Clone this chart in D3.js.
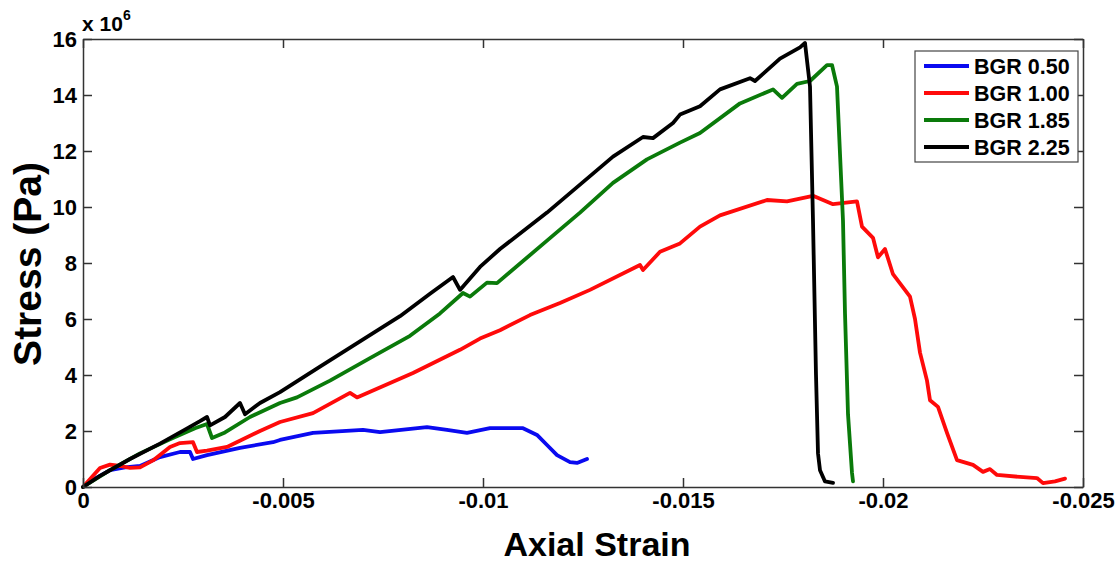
<!DOCTYPE html>
<html>
<head>
<meta charset="utf-8">
<script src="https://cdn.jsdelivr.net/npm/d3@7"></script>
<style>
  body { margin: 0; background: #fff; }
  text { font-family: "Liberation Sans", Arial, sans-serif; font-weight: bold; }
</style>
</head>
<body>
<svg id="chart" width="1120" height="565"></svg>
<script>
// Data (strain is negative, stress in units of 1e6 Pa)
var seriesNames = ["BGR 0.50", "BGR 1.00", "BGR 1.85", "BGR 2.25"];
var seriesColors = ["#0a0af0", "#ff0a0a", "#0a7a0a", "#000000"];

var strain050 = [0, -0.0003, -0.000675, -0.00105, -0.001425, -0.001925, -0.002425, -0.002675, -0.00275, -0.0031,
  -0.003925, -0.00475, -0.004925, -0.00575, -0.007, -0.007425, -0.0086, -0.0091, -0.0096, -0.010175,
  -0.011, -0.01135, -0.0116, -0.01185, -0.012175, -0.01235, -0.0126];
var stress050 = [0, 0.3, 0.6, 0.7, 0.75, 1.07, 1.25, 1.25, 1.0, 1.14,
  1.4, 1.6, 1.68, 1.93, 2.04, 1.96, 2.14, 2.04, 1.93, 2.1,
  2.1, 1.86, 1.5, 1.14, 0.89, 0.86, 1.0];

var strain100 = [0, -0.00025, -0.000425, -0.000675, -0.000925, -0.001175, -0.001425, -0.00175, -0.002175, -0.002425,
  -0.00275, -0.00285, -0.0031, -0.0036, -0.004425, -0.004925, -0.00575, -0.006675, -0.00685, -0.00825,
  -0.009425, -0.009925, -0.010425, -0.011175, -0.011925, -0.012675, -0.013925, -0.014, -0.014425, -0.014925,
  -0.015425, -0.015925, -0.0171, -0.0176, -0.01825, -0.01875, -0.01935, -0.019475, -0.01975, -0.019875,
  -0.02005, -0.02025, -0.020675, -0.0208, -0.020925, -0.0211, -0.021175, -0.021375, -0.0216, -0.02185,
  -0.02225, -0.0225, -0.022675, -0.02285, -0.023425, -0.02385, -0.024, -0.0243, -0.02455];
var stress100 = [0, 0.4, 0.68, 0.8, 0.75, 0.68, 0.7, 0.95, 1.43, 1.57,
  1.6, 1.25, 1.3, 1.43, 2.0, 2.32, 2.64, 3.36, 3.2, 4.07,
  4.9, 5.3, 5.6, 6.14, 6.57, 7.04, 7.93, 7.75, 8.4, 8.7,
  9.3, 9.7, 10.25, 10.2, 10.4, 10.1, 10.2, 9.3, 8.9, 8.2,
  8.5, 7.6, 6.8, 6.0, 4.8, 3.8, 3.1, 2.86, 1.93, 0.96,
  0.79, 0.54, 0.64, 0.43, 0.36, 0.32, 0.14, 0.2, 0.3];

var strain185 = [0, -0.000675, -0.001425, -0.002175, -0.0028, -0.0031, -0.003225, -0.00355, -0.004175, -0.004925,
  -0.00535, -0.006175, -0.007175, -0.008175, -0.008925, -0.0095, -0.009675, -0.0101, -0.01035, -0.0116,
  -0.012425, -0.01325, -0.0141, -0.014925, -0.015425, -0.016425, -0.01725, -0.017475, -0.01785, -0.018175,
  -0.0186, -0.018725, -0.01885, -0.018925, -0.019, -0.01905, -0.019125, -0.019225, -0.01925];
var stress185 = [0, 0.6, 1.2, 1.7, 2.1, 2.25, 1.75, 1.95, 2.5, 3.0,
  3.2, 3.8, 4.6, 5.4, 6.2, 6.93, 6.8, 7.3, 7.28, 8.8,
  9.8, 10.86, 11.7, 12.3, 12.64, 13.7, 14.2, 13.9, 14.4, 14.5,
  15.07, 15.07, 14.3, 11.9, 9.5, 6.2, 2.6, 0.5, 0.2];

var strain225 = [0, -0.000425, -0.001175, -0.001925, -0.00255, -0.002925, -0.0031, -0.003175, -0.00355, -0.003925,
  -0.00405, -0.004425, -0.004925, -0.005925, -0.006925, -0.007925, -0.008675, -0.00925, -0.009425, -0.009925,
  -0.010425, -0.0116, -0.012425, -0.01325, -0.014, -0.01425, -0.01475, -0.014925, -0.015425, -0.015925,
  -0.016675, -0.0168, -0.017425, -0.017925, -0.01805, -0.018175, -0.01825, -0.018325, -0.018375, -0.018425,
  -0.01855, -0.01875];
var stress225 = [0, 0.4, 1.0, 1.55, 2.05, 2.35, 2.5, 2.2, 2.5, 3.0,
  2.6, 3.0, 3.39, 4.3, 5.2, 6.1, 6.9, 7.5, 7.04, 7.86,
  8.5, 9.8, 10.8, 11.8, 12.5, 12.46, 13.0, 13.3, 13.6, 14.2,
  14.6, 14.5, 15.3, 15.7, 15.86, 14.3, 9.5, 4.0, 1.2, 0.6,
  0.2, 0.15];

var xTicks = [0, -0.005, -0.01, -0.015, -0.02, -0.025];
var xTickLabels = ["0", "-0.005", "-0.01", "-0.015", "-0.02", "-0.025"];
var yTicks = [0, 2, 4, 6, 8, 10, 12, 14, 16];

var W = 1120, H = 565;
var margin = {left: 83, right: 37, top: 39, bottom: 78};

var svg = d3.select("#chart");
svg.append("rect").attr("width", W).attr("height", H).attr("fill", "white");

var xScale = d3.scaleLinear().domain([0, -0.025]).range([margin.left, W - margin.right]);
var yScale = d3.scaleLinear().domain([0, 16]).range([H - margin.bottom, margin.top]);

var allSeries = [
  {name: seriesNames[0], color: seriesColors[0], x: strain050, y: stress050},
  {name: seriesNames[1], color: seriesColors[1], x: strain100, y: stress100},
  {name: seriesNames[2], color: seriesColors[2], x: strain185, y: stress185},
  {name: seriesNames[3], color: seriesColors[3], x: strain225, y: stress225}
];

// Draw lines
var drawLine = d3.line()
  .x(function(d) { return xScale(d[0]); })
  .y(function(d) { return yScale(d[1]); })
  .curve(d3.curveLinear);

allSeries.forEach(function(s) {
  var pts = s.x.map(function(v, i) { return [v, s.y[i]]; });
  svg.append("path")
    .attr("d", drawLine(pts))
    .attr("fill", "none")
    .attr("stroke", s.color)
    .attr("stroke-width", 3.8)
    .attr("stroke-linejoin", "round")
    .attr("stroke-linecap", "round");
});

// Axes, ticks pointing inward on all four sides
var axisColor = "#333";
function styleAxis(g) {
  g.select(".domain").attr("stroke", axisColor).attr("stroke-width", 1.5);
  g.selectAll(".tick line").attr("stroke", axisColor).attr("stroke-width", 1.5);
  g.selectAll("text")
    .attr("fill", "#000")
    .style("font-family", "'Liberation Sans', Arial, sans-serif")
    .style("font-weight", "bold")
    .style("font-size", "22px");
}

svg.append("g")
  .attr("transform", "translate(0," + yScale(0) + ")")
  .call(d3.axisBottom(xScale).tickValues(xTicks)
    .tickFormat(function(d, i) { return xTickLabels[i]; })
    .tickSizeInner(-9).tickSizeOuter(0).tickPadding(5))
  .call(styleAxis);

svg.append("g")
  .attr("transform", "translate(0," + yScale(16) + ")")
  .call(d3.axisTop(xScale).tickValues(xTicks).tickFormat("")
    .tickSizeInner(-9).tickSizeOuter(0))
  .call(styleAxis);

svg.append("g")
  .attr("transform", "translate(" + xScale(0) + ",0)")
  .call(d3.axisLeft(yScale).tickValues(yTicks).tickFormat(d3.format("d"))
    .tickSizeInner(-9).tickSizeOuter(0).tickPadding(6))
  .call(styleAxis);

svg.append("g")
  .attr("transform", "translate(" + xScale(-0.025) + ",0)")
  .call(d3.axisRight(yScale).tickValues(yTicks).tickFormat("")
    .tickSizeInner(-9).tickSizeOuter(0))
  .call(styleAxis);

// Exponent label
var expo = svg.append("text")
  .attr("x", 82).attr("y", 31)
  .style("font-size", "21px")
  .text("x 10");
expo.append("tspan")
  .attr("dy", -11)
  .style("font-size", "14px")
  .text("6");

// Axis titles
svg.append("text")
  .attr("x", 597).attr("y", 556)
  .attr("text-anchor", "middle")
  .style("font-size", "34px")
  .text("Axial Strain");

svg.append("text")
  .attr("transform", "translate(41,264) rotate(-90)")
  .attr("text-anchor", "middle")
  .style("font-size", "39px")
  .text("Stress (Pa)");

// Legend
var legend = svg.append("g").attr("transform", "translate(915,51)");
legend.append("rect")
  .attr("width", 163).attr("height", 111)
  .attr("fill", "white").attr("stroke", "#444").attr("stroke-width", 1.2);

allSeries.forEach(function(s, i) {
  var ly = 15 + i * 27;
  legend.append("line")
    .attr("x1", 9).attr("x2", 54)
    .attr("y1", ly).attr("y2", ly)
    .attr("stroke", s.color).attr("stroke-width", 3.8);
  legend.append("text")
    .attr("x", 59).attr("y", ly + 8)
    .style("font-size", "21.5px")
    .text(s.name);
});
</script>
</body>
</html>
